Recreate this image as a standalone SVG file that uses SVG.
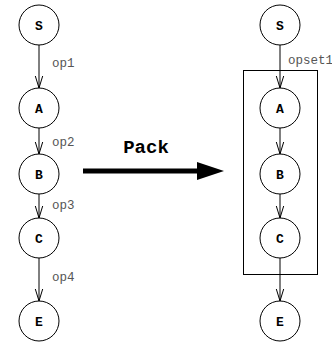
<svg xmlns="http://www.w3.org/2000/svg" width="332" height="343" viewBox="0 0 332 343">
  <style>
    .node circle { fill: #fff; stroke: #000; stroke-width: 1; }
    .node text { font-family: "Liberation Mono", "Courier New", monospace; font-weight: bold; font-size: 13px; text-anchor: middle; dominant-baseline: central; fill: #000; }
    .edge { stroke: #000; stroke-width: 1; fill: none; marker-end: url(#vee); }
    .lbl { font-family: "Liberation Mono", "Courier New", monospace; font-size: 12.5px; fill: #555; }
    .box { fill: none; stroke: #000; stroke-width: 1; }
    .pack { font-family: "Liberation Mono", "Courier New", monospace; font-weight: bold; font-size: 19px; text-anchor: middle; fill: #000; }
  </style>
  <defs>
    <!-- open vee arrowhead, tip at the end of the line -->
    <marker id="vee" markerWidth="14" markerHeight="10" refX="12" refY="4" orient="auto" markerUnits="userSpaceOnUse" viewBox="0 0 14 8">
      <path d="M0,0.3 L12,4 L0,7.7" fill="none" stroke="#000" stroke-width="1"/>
    </marker>
  </defs>

  <!-- cluster boundary on the packed side -->
  <rect class="box" x="243.5" y="70.5" width="74" height="204"/>

  <!-- connectors -->
  <g id="connectors">
    <line class="edge" x1="39" y1="45" x2="39" y2="88"/>
    <line class="edge" x1="39" y1="128" x2="39" y2="154"/>
    <line class="edge" x1="39" y1="194" x2="39" y2="218"/>
    <line class="edge" x1="39" y1="258" x2="39" y2="301"/>
    <line class="edge" x1="280" y1="45" x2="280" y2="88"/>
    <line class="edge" x1="280" y1="128" x2="280" y2="154"/>
    <line class="edge" x1="280" y1="194" x2="280" y2="218"/>
    <line class="edge" x1="280" y1="258" x2="280" y2="301"/>
    <!-- transformation arrow -->
    <line x1="83" y1="171" x2="200" y2="171" stroke="#000" stroke-width="5"/>
    <polygon points="197,162 224,171 197,180" fill="#000"/>
  </g>

  <!-- edge labels -->
  <text class="lbl" x="52" y="67">op1</text>
  <text class="lbl" x="52" y="146">op2</text>
  <text class="lbl" x="52" y="209">op3</text>
  <text class="lbl" x="52" y="281">op4</text>
  <text class="lbl" x="288" y="64">opset1</text>
  <text class="pack" x="146" y="153">Pack</text>

  <!-- original chain -->
  <g id="S1" class="node"><circle cx="39" cy="25" r="20"/><text x="39" y="26">S</text></g>
  <g id="A1" class="node"><circle cx="39" cy="108" r="20"/><text x="39" y="109">A</text></g>
  <g id="B1" class="node"><circle cx="39" cy="174" r="20"/><text x="39" y="175">B</text></g>
  <g id="C1" class="node"><circle cx="39" cy="238" r="20"/><text x="39" y="239">C</text></g>
  <g id="E1" class="node"><circle cx="39" cy="321" r="20"/><text x="39" y="322">E</text></g>

  <!-- packed chain -->
  <g id="S2" class="node"><circle cx="280" cy="25" r="20"/><text x="280" y="26">S</text></g>
  <g id="A2" class="node"><circle cx="280" cy="108" r="20"/><text x="280" y="109">A</text></g>
  <g id="B2" class="node"><circle cx="280" cy="174" r="20"/><text x="280" y="175">B</text></g>
  <g id="C2" class="node"><circle cx="280" cy="238" r="20"/><text x="280" y="239">C</text></g>
  <g id="E2" class="node"><circle cx="280" cy="321" r="20"/><text x="280" y="322">E</text></g>
</svg>
